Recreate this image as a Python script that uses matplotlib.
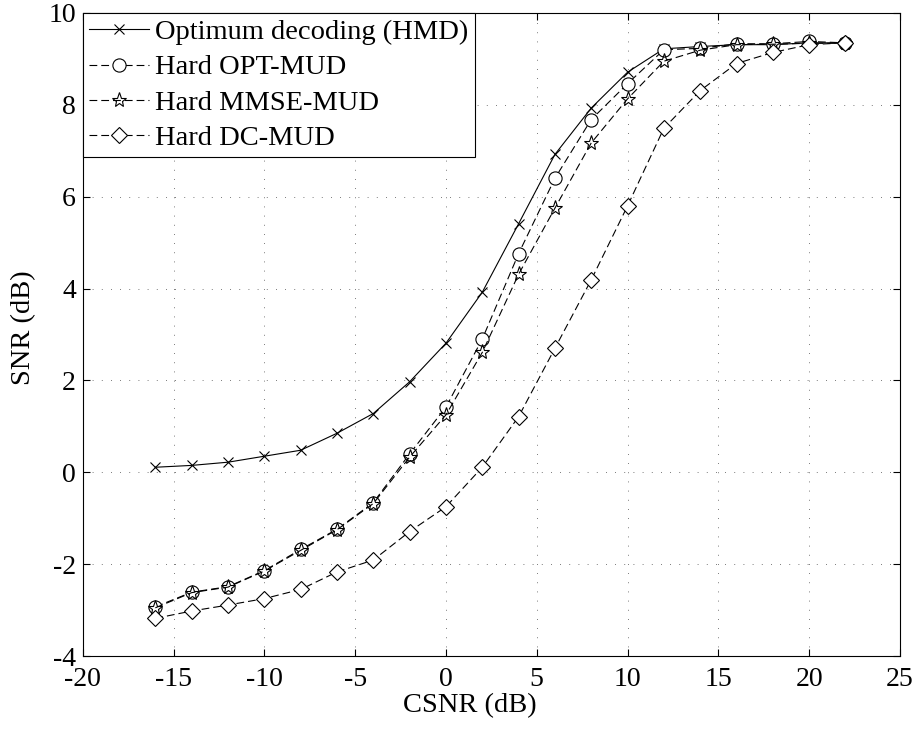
import numpy as np
import matplotlib
matplotlib.use('Agg')
import matplotlib.pyplot as plt

csnr = [-16, -14, -12, -10, -8, -6, -4, -2, 0, 2, 4, 6, 8, 10, 12, 14, 16, 18, 20, 22]

snr_hmd = [0.11, 0.15, 0.22, 0.35, 0.48, 0.85, 1.28, 1.97, 2.81, 3.92, 5.41, 6.92,
           7.93, 8.71, 9.22, 9.27, 9.31, 9.31, 9.35, 9.35]
snr_opt = [-2.93, -2.61, -2.49, -2.14, -1.68, -1.24, -0.66, 0.40, 1.42, 2.90, 4.76, 6.40,
           7.68, 8.46, 9.20, 9.23, 9.33, 9.33, 9.38, 9.35]
snr_mmse = [-2.95, -2.62, -2.50, -2.15, -1.70, -1.25, -0.68, 0.33, 1.25, 2.61, 4.31, 5.75,
            7.17, 8.13, 8.95, 9.19, 9.31, 9.32, 9.34, 9.34]
snr_dc = [-3.18, -3.02, -2.89, -2.75, -2.55, -2.17, -1.91, -1.29, -0.75, 0.11, 1.21, 2.70,
          4.19, 5.80, 7.49, 8.31, 8.90, 9.14, 9.31, 9.35]

labels = ['Optimum decoding (HMD)', 'Hard OPT-MUD', 'Hard MMSE-MUD', 'Hard DC-MUD']

plt.rcParams['font.family'] = ['Liberation Serif', 'DejaVu Serif']
plt.rcParams['font.size'] = 20
plt.rcParams['axes.unicode_minus'] = False

fig = plt.figure(figsize=(9.16, 7.29), dpi=100)
ax = fig.add_axes([0.0903, 0.1001, 0.8922, 0.8821])

dash = (0, (7, 3.6))
ax.plot(csnr, snr_hmd, '-', color='k', lw=0.8, marker='x', ms=7, mew=0.8,
        label=labels[0])
ax.plot(csnr, snr_opt, linestyle=dash, color='k', lw=0.8, marker='o', ms=9.5,
        mfc='white', mew=0.8, label=labels[1])
ax.plot(csnr, snr_mmse, linestyle=dash, color='k', lw=0.8, marker='*', ms=11,
        mfc='none', mew=0.8, label=labels[2])
ax.plot(csnr, snr_dc, linestyle=dash, color='k', lw=0.8, marker='D', ms=8.5,
        mfc='white', mew=0.8, label=labels[3])

ax.set_xlim(-20, 25)
ax.set_ylim(-4, 10)
ax.set_xticks(np.arange(-20, 26, 5))
ax.set_yticks(np.arange(-4, 11, 2))
ax.grid(True, color='0.3', linestyle=(0, (1, 10)), lw=0.6)
ax.tick_params(direction='in', top=True, right=True, length=5, width=0.8)
ax.tick_params(axis='x', pad=8)
ax.tick_params(axis='y', pad=5)
for s in ax.spines.values():
    s.set_linewidth(0.8)

ax.set_xlabel('CSNR (dB)', fontsize=20.5)
ax.set_ylabel('SNR (dB)', fontsize=20.5)
ax.xaxis.set_label_coords(0.474, -0.057)
ax.yaxis.set_label_coords(-0.057, 0.51)

leg = ax.legend(loc='upper left', borderaxespad=0, fancybox=False, framealpha=1,
                edgecolor='k', handlelength=2.1, handletextpad=0.22,
                labelspacing=0.33, borderpad=0.22, fontsize=20.5)
leg.get_frame().set_linewidth(0.8)

fig.savefig('out.png', dpi=100)
